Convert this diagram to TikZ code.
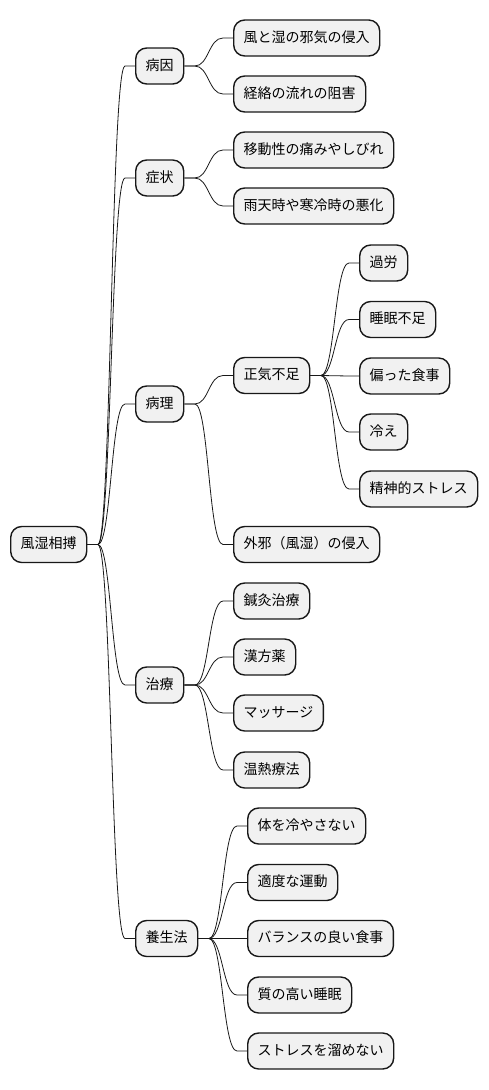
\documentclass[tikz,border=0pt]{standalone}
\usepackage{fontspec}
\setmainfont{Noto Sans CJK JP}
\usetikzlibrary{calc}
\definecolor{boxfill}{HTML}{F1F1F1}
\definecolor{boxline}{HTML}{181818}
\tikzset{
  mmbox/.style={draw=boxline, fill=boxfill, line width=1.4pt, rounded corners=11pt,
    anchor=west, minimum height=36pt, inner xsep=10pt, inner ysep=0pt,
    text height=11pt, text depth=2.5pt, font=\fontsize{14pt}{16pt}\selectfont},
  mmlink/.style={draw=boxline, line width=0.8pt}
}
\newcommand{\mmconn}[2]{%
  \draw[mmlink] let \p1=(#1.east), \p2=(#2.west) in
    (\p1) -- (\x1+10.5pt,\y1)
    .. controls ({(\x1+\x2)/2},\y1) and ({(\x1+\x2)/2},\y2) ..
    (\x2-10pt,\y2) -- (\p2);}
\begin{document}
\begin{tikzpicture}[x=1pt,y=-1pt]
\useasboundingbox (0,0) rectangle (488,1090);
\node[mmbox] (root) at (10,544.5) {風湿相搏};
\node[mmbox] (a1) at (135,66) {病因};
\node[mmbox] (a11) at (233,38) {風と湿の邪気の侵入};
\node[mmbox] (a12) at (233,94) {経絡の流れの阻害};
\node[mmbox] (a2) at (135,178) {症状};
\node[mmbox] (a21) at (233,150) {移動性の痛みやしびれ};
\node[mmbox] (a22) at (233,206) {雨天時や寒冷時の悪化};
\node[mmbox] (a3) at (135,404) {病理};
\node[mmbox] (a31) at (233,375.5) {正気不足};
\node[mmbox] (a311) at (359,263) {過労};
\node[mmbox] (a312) at (359,319.5) {睡眠不足};
\node[mmbox] (a313) at (359,376) {偏った食事};
\node[mmbox] (a314) at (359,432) {冷え};
\node[mmbox] (a315) at (359,489) {精神的ストレス};
\node[mmbox] (a32) at (233,544.5) {外邪（風湿）の侵入};
\node[mmbox] (a4) at (135,685) {治療};
\node[mmbox] (a41) at (233,601) {鍼灸治療};
\node[mmbox] (a42) at (233,657) {漢方薬};
\node[mmbox] (a43) at (233,713) {マッサージ};
\node[mmbox] (a44) at (233,770) {温熱療法};
\node[mmbox] (a5) at (135,938.5) {養生法};
\node[mmbox] (a51) at (247,826) {体を冷やさない};
\node[mmbox] (a52) at (247,882.5) {適度な運動};
\node[mmbox] (a53) at (247,938.5) {バランスの良い食事};
\node[mmbox] (a54) at (247,995) {質の高い睡眠};
\node[mmbox] (a55) at (247,1051) {ストレスを溜めない};
\foreach \c in {a1,a2,a3,a4,a5} {\mmconn{root}{\c}}
\foreach \c in {a11,a12} {\mmconn{a1}{\c}}
\foreach \c in {a21,a22} {\mmconn{a2}{\c}}
\foreach \c in {a31,a32} {\mmconn{a3}{\c}}
\foreach \c in {a311,a312,a313,a314,a315} {\mmconn{a31}{\c}}
\foreach \c in {a41,a42,a43,a44} {\mmconn{a4}{\c}}
\foreach \c in {a51,a52,a53,a54,a55} {\mmconn{a5}{\c}}
\end{tikzpicture}
\end{document}
